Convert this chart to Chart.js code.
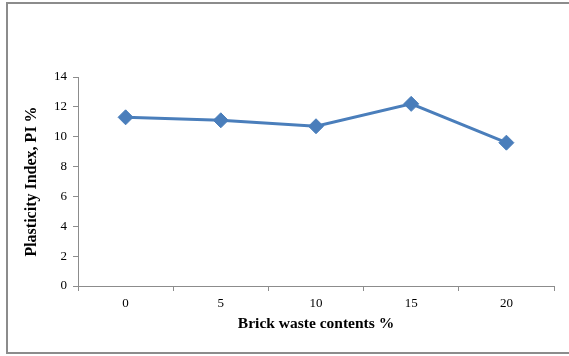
<!DOCTYPE html>
<html>
<head>
<meta charset="utf-8">
<script src="https://cdn.jsdelivr.net/npm/chart.js@4/dist/chart.umd.min.js"></script>
<style>
  html, body { margin: 0; padding: 0; background: #ffffff; }
  #wrap { position: relative; width: 569px; height: 356px; }
  canvas { display: block; }
</style>
</head>
<body>
<div id="wrap"><canvas id="chart" width="569" height="356"></canvas></div>
<script>
// Brick waste content (%) and the plasticity index measured at each level
const brickWaste = ['0', '5', '10', '15', '20'];
const plasticityIndex = [11.3, 11.1, 10.7, 12.2, 9.6];
const yTicks = [0, 2, 4, 6, 8, 10, 12, 14];

const serif = "'Liberation Serif', 'Times New Roman', serif";

// Grey frame around the whole figure (left, top and bottom edges)
const framePlugin = {
  id: 'frame',
  beforeDraw(chart) {
    const ctx = chart.ctx;
    ctx.save();
    ctx.strokeStyle = '#8c8c8c';
    ctx.lineWidth = 2;
    ctx.beginPath();
    ctx.moveTo(580, 3);
    ctx.lineTo(7, 3);
    ctx.lineTo(7, 353);
    ctx.lineTo(580, 353);
    ctx.stroke();
    ctx.restore();
  }
};

new Chart(document.getElementById('chart'), {
  type: 'line',
  data: {
    labels: brickWaste,
    datasets: [{
      data: plasticityIndex,
      borderColor: '#4a7ebb',
      backgroundColor: '#4a7ebb',
      borderWidth: 3,
      pointStyle: 'rectRot',
      pointRadius: 7.5,
      pointHoverRadius: 7.5,
      pointBorderWidth: 1,
      pointBorderColor: '#4a7ebb',
      pointBackgroundColor: '#4a7ebb',
      tension: 0
    }]
  },
  options: {
    responsive: false,
    animation: false,
    layout: { padding: { left: 22, top: 77, right: 15, bottom: 23 } },
    plugins: {
      legend: { display: false },
      tooltip: { enabled: false }
    },
    scales: {
      x: {
        offset: true,
        grid: {
          offset: true,
          drawOnChartArea: false,
          drawTicks: true,
          tickLength: 5,
          color: '#8c8c8c'
        },
        border: { color: '#8c8c8c', width: 1 },
        ticks: {
          color: '#000000',
          font: { family: serif, size: 13 },
          padding: 5,
          maxRotation: 0
        },
        title: {
          display: true,
          text: 'Brick waste contents %',
          color: '#000000',
          font: { family: serif, size: 15.5, weight: 'bold' },
          padding: { top: 6, bottom: 0 }
        },
        afterFit(scale) { scale.height = 47; }
      },
      y: {
        min: 0,
        max: 14,
        afterBuildTicks(scale) { scale.ticks = yTicks.map(v => ({ value: v })); },
        grid: {
          drawOnChartArea: false,
          drawTicks: true,
          tickLength: 5,
          color: '#8c8c8c'
        },
        border: { color: '#8c8c8c', width: 1 },
        ticks: {
          color: '#000000',
          font: { family: serif, size: 13 },
          padding: 6
        },
        title: {
          display: true,
          text: 'Plasticity Index, PI %',
          color: '#000000',
          font: { family: serif, size: 16, weight: 'bold' },
          padding: { top: 0, bottom: 6 }
        },
        afterFit(scale) { scale.width = 56; }
      }
    }
  },
  plugins: [framePlugin]
});
</script>
</body>
</html>
